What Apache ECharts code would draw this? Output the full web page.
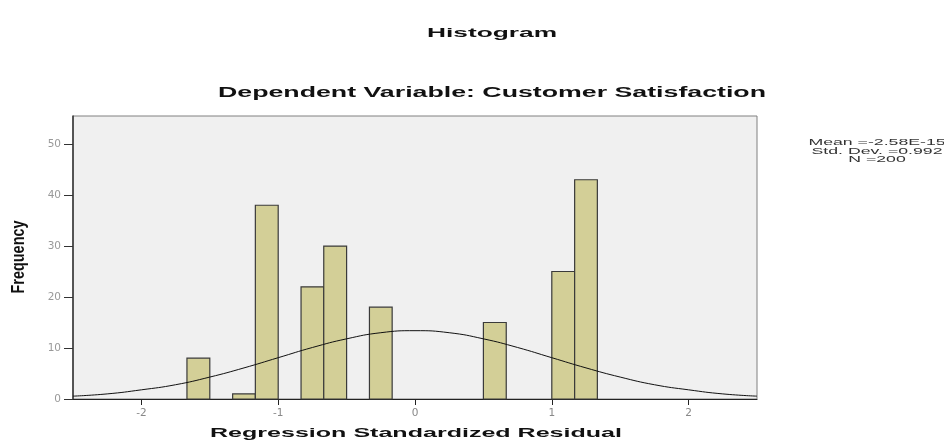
<!DOCTYPE html>
<html>
<head>
<meta charset="utf-8">
<script src="https://cdn.jsdelivr.net/npm/echarts@6/dist/echarts.min.js"></script>
<style>html,body{margin:0;padding:0;background:#fff}#c{width:944px;height:441px}</style>
</head>
<body>
<div id="c"></div>
<script>
// ---- data ----
const binLower = [-1.667, -1.333, -1.167, -0.833, -0.667, -0.333, 0.5, 1.0, 1.167];
const binUpper = [-1.5, -1.167, -1.0, -0.667, -0.5, -0.167, 0.667, 1.167, 1.333];
const frequency = [8, 1, 38, 22, 30, 18, 15, 25, 43];
const curveX = [-2.5, -2.25, -2, -1.75, -1.5, -1.25, -1, -0.75, -0.5, -0.25, 0, 0.25, 0.5, 0.75, 1, 1.25, 1.5, 1.75, 2, 2.25, 2.5];
const curveY = [0.56, 1.0, 1.8, 2.8, 4.3, 6.1, 8.1, 10.1, 11.8, 13.0, 13.4, 13.0, 11.8, 10.1, 8.1, 6.1, 4.3, 2.8, 1.8, 1.0, 0.56];
const xTicks = [-2, -1, 0, 1, 2];
const yTicks = [0, 10, 20, 30, 40, 50];
const titleText = 'Histogram';
const subtitleText = 'Dependent Variable: Customer Satisfaction';
const xName = 'Regression Standardized Residual';
const yName = 'Frequency';
const statsLines = ['Mean =-2.58E-15', 'Std. Dev. =0.992', 'N =200'];

// ---- helpers ----
const ctx = document.createElement('canvas').getContext('2d');
const FAM = 'Liberation Sans';

const barData = binLower.map((lo, i) => [lo, binUpper[i], frequency[i]]);
const curveData = curveX.map((x, i) => [x, curveY[i]]);

function stretchedText(text, cx, cy, size, targetW, weight, color) {
  ctx.font = (weight || 'bold') + ' ' + size + 'px "' + FAM + '"';
  const s = targetW / ctx.measureText(text).width;
  return {
    type: 'text', x: cx, y: cy, scaleX: s, z: 100,
    style: { text: text, fontFamily: FAM, fontSize: size, fontWeight: weight || 'bold',
      fill: color || '#111', textAlign: 'center', textVerticalAlign: 'middle' }
  };
}

ctx.font = 'normal 8.5px "' + FAM + '"';
const statScale = 131 / ctx.measureText(statsLines[1]).width;

const chart = echarts.init(document.getElementById('c'), null, { renderer: 'canvas' });
chart.setOption({
  animation: false,
  backgroundColor: '#ffffff',
  grid: { left: 73, right: 187, top: 116, bottom: 42, show: true,
    backgroundColor: '#f0f0f0', borderColor: '#808080', borderWidth: 1 },
  xAxis: {
    type: 'value', min: -2.5, max: 2.5,
    axisLine: { show: true, onZero: false, lineStyle: { color: '#222', width: 1.2 } },
    axisTick: { show: true, length: 6, customValues: xTicks, lineStyle: { color: '#222' } },
    axisLabel: { customValues: xTicks, margin: 9, color: '#888', fontSize: 10.5, fontFamily: 'DejaVu Sans' },
    splitLine: { show: false }
  },
  yAxis: {
    type: 'value', min: 0, max: 55.5,
    axisLine: { show: true, onZero: false, lineStyle: { color: '#333', width: 1.5 } },
    axisTick: { show: true, length: 9, customValues: yTicks, lineStyle: { color: '#333' } },
    axisLabel: { customValues: yTicks, margin: 12, color: '#999', fontSize: 10.5, fontFamily: 'DejaVu Sans' },
    splitLine: { show: false }
  },
  series: [
    {
      type: 'custom',
      data: barData,
      encode: { x: [0, 1], y: 2 },
      renderItem: function (params, api) {
        const p0 = api.coord([api.value(0), api.value(2)]);
        const p1 = api.coord([api.value(1), 0]);
        return { type: 'rect',
          shape: { x: p0[0], y: p0[1], width: p1[0] - p0[0], height: p1[1] - p0[1] },
          style: { fill: '#d3cf97', stroke: '#3a3a3a', lineWidth: 1.2 } };
      },
      z: 2
    },
    {
      type: 'line', data: curveData, smooth: true, showSymbol: false, symbol: 'none',
      lineStyle: { color: '#111', width: 1 }, z: 3
    }
  ],
  graphic: [
    stretchedText(titleText, 492, 33, 13, 130),
    stretchedText(subtitleText, 492, 93, 14, 548),
    stretchedText(xName, 416, 433, 13, 412),
    (function () {
      ctx.font = 'bold 13px "' + FAM + '"';
      const s = 73 / ctx.measureText(yName).width;
      return { type: 'text', x: 19, y: 257, rotation: Math.PI / 2, scaleX: s, scaleY: 1.35, z: 100,
        style: { text: yName, fontFamily: FAM, fontSize: 13, fontWeight: 'bold', fill: '#111',
          textAlign: 'center', textVerticalAlign: 'middle' } };
    })(),
    ...statsLines.map((t, i) => ({
      type: 'text', x: 877, y: 143 + i * 8.5, scaleX: statScale, z: 100,
      style: { text: t, fontFamily: FAM, fontSize: 8.5, fill: '#333',
        textAlign: 'center', textVerticalAlign: 'middle' }
    }))
  ]
});
</script>
</body>
</html>
